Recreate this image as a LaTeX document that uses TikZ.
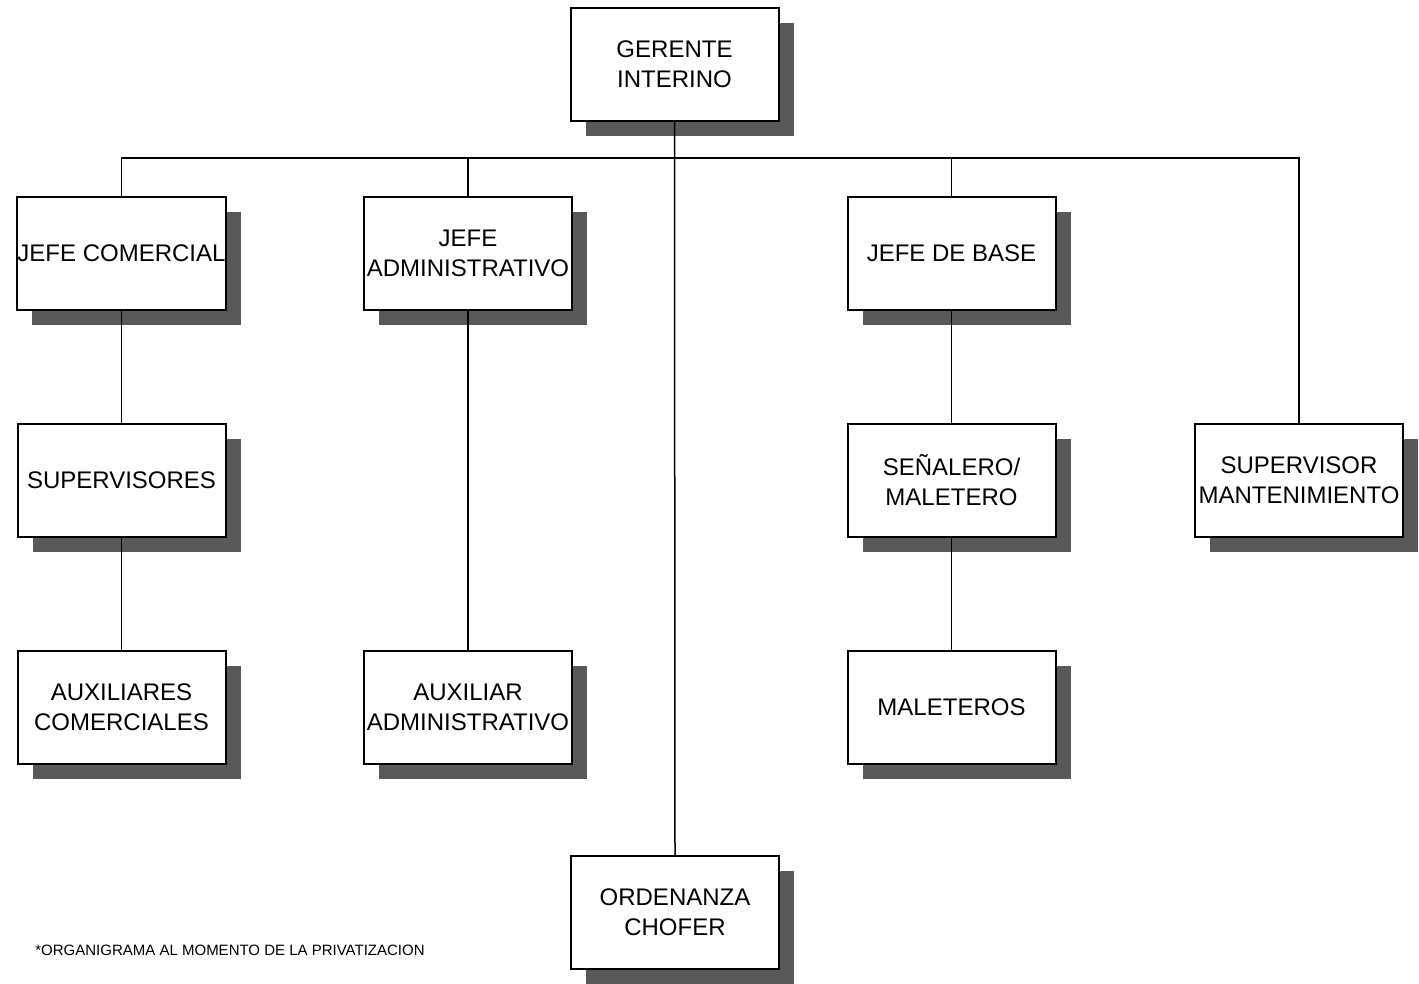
\documentclass[tikz,border=0pt]{standalone}
\usepackage{fontspec}
\setmainfont{Liberation Sans}
\usetikzlibrary{shadows}
\begin{document}
\begin{tikzpicture}[x=0.5pt,y=-0.5pt,
  orgbox/.style={draw=black, line width=1pt, fill=white, minimum width=104pt, minimum height=56.5pt,
    align=center, font=\fontsize{12}{15}\selectfont, inner sep=0pt,
    drop shadow={shadow xshift=7.5pt, shadow yshift=-7.5pt, fill=black!65, opacity=1}},
  link/.style={draw=black, line width=0.75pt}]
\useasboundingbox (0,0) rectangle (1419,984);
\node[orgbox] (ger) at (674.5,64.5) {GERENTE\\INTERINO};
\node[orgbox] (jc) at (121.5,253.5) {JEFE COMERCIAL};
\node[orgbox] (ja) at (468,253.5) {JEFE\\ADMINISTRATIVO};
\node[orgbox] (jb) at (951.5,253.5) {JEFE DE BASE};
\node[orgbox] (sup) at (121.5,480) {SUPERVISORES};
\node[orgbox] (sen) at (951.5,480) {SEÑALERO/\\MALETERO};
\node[orgbox] (sm) at (1299,480) {SUPERVISOR\\MANTENIMIENTO};
\node[orgbox] (aux) at (121.5,707) {AUXILIARES\\COMERCIALES};
\node[orgbox] (aa) at (468,707) {AUXILIAR\\ADMINISTRATIVO};
\node[orgbox] (mal) at (951.5,707) {MALETEROS};
\node[orgbox] (ord) at (675,912.5) {ORDENANZA\\CHOFER};
\coordinate (bus) at (675,158);
\draw[link] (ger.south) -- (ord.north);
\draw[link] (jc.north) -- (jc.north |- bus) -- (sm.north |- bus) -- (sm.north);
\draw[link] (ja.north) -- (ja.north |- bus);
\draw[link] (jb.north) -- (jb.north |- bus);
\draw[link] (jc.south) -- (sup.north);
\draw[link] (sup.south) -- (aux.north);
\draw[link] (ja.south) -- (aa.north);
\draw[link] (jb.south) -- (sen.north);
\draw[link] (sen.south) -- (mal.north);
\node[anchor=west, font=\fontsize{7.5}{9}\selectfont, inner sep=0pt] (note) at (35,950) {*ORGANIGRAMA AL MOMENTO DE LA PRIVATIZACION};
\end{tikzpicture}
\end{document}
